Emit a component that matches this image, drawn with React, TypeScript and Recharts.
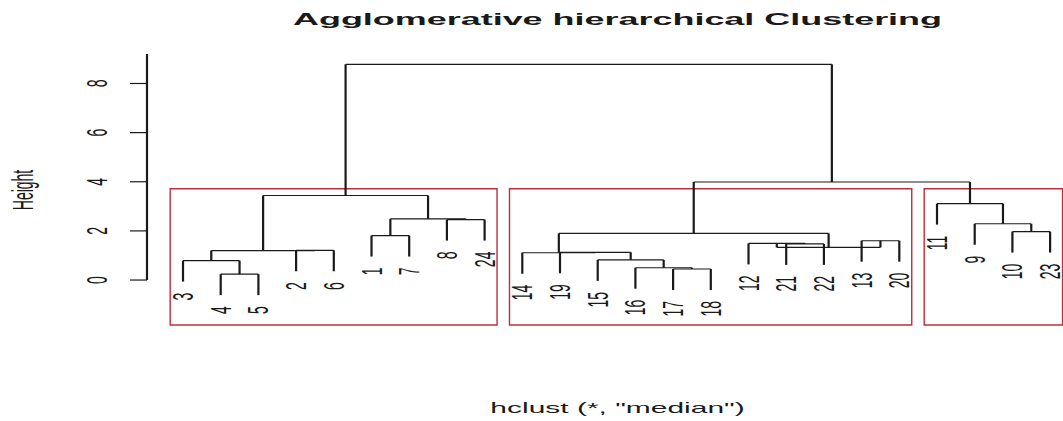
import React from 'react';
import {
  ComposedChart,
  Line,
  Scatter,
  XAxis,
  YAxis,
  ReferenceArea,
  ReferenceLine,
} from 'recharts';

// leaf order along the x axis (observation numbers)
const leafOrder = [3, 4, 5, 2, 6, 1, 7, 8, 24, 14, 19, 15, 16, 17, 18, 12, 21, 22, 13, 20, 11, 9, 10, 23];

// hclust style merge table: negative = observation, positive = earlier merge (1-based)
const mergeLeft = [-4, -3, -2, 2, -1, -8, 5, 4, -17, -16, -15, -19, -14, -21, -12, -13, 15, 13, -10, -9, -11, 18, 8];
const mergeRight = [-5, 1, -6, 3, -7, -24, 6, 7, -18, 9, 10, 11, 12, -22, 14, -20, 16, 17, -23, 19, 20, 21, 22];
const mergeHeight = [
  0.24, 0.79, 1.21, 1.2, 1.81, 2.46, 2.49, 3.44, 0.45, 0.5, 0.82, 1.13, 1.11, 1.47, 1.49, 1.6, 1.33, 1.9,
  1.97, 2.29, 3.11, 3.99, 8.78,
];

// rect.hclust(k = 3) groups, sizes in leaf order
const clusterSizes = [9, 11, 4];

const yTicks = [0, 2, 4, 6, 8];

const W = 1063;
const H = 421;
const SX = 2.14; // the picture is stretched sideways
const FONT = '"Liberation Sans", Arial, Helvetica, sans-serif';
const INK = '#1a1a1a';
const BOX = '#b8303c';
const X_DOMAIN: [number, number] = [0.045, 24.342];
const Y_DOMAIN: [number, number] = [-1.83, 9.2];

type Pt = { x: number; y: number };

const leafPos: Record<number, number> = {};
leafOrder.forEach((id, i) => {
  leafPos[id] = i + 1;
});

const hang = 0.1 * (Math.max(...mergeHeight) - Math.min(...mergeHeight));

const nodeX: number[] = [];
const vSegs: Pt[][] = [];
const hSegs: Pt[][] = [];
const leaves: { x: number; y: number; label: string }[] = [];

mergeHeight.forEach((h, i) => {
  const kids = [mergeLeft[i], mergeRight[i]].map((c) => {
    if (c < 0) {
      const p = { x: leafPos[-c], y: h - hang };
      leaves.push({ ...p, label: String(-c) });
      return p;
    }
    return { x: nodeX[c - 1], y: mergeHeight[c - 1] };
  });
  nodeX[i] = (kids[0].x + kids[1].x) / 2;
  kids.forEach((k) => vSegs.push([{ x: k.x, y: k.y }, { x: k.x, y: h }]));
  hSegs.push([{ x: kids[0].x, y: h }, { x: kids[1].x, y: h }]);
});

const sortedHeights = [...mergeHeight].sort((a, b) => b - a);
const boxTop = (sortedHeights[1] + sortedHeights[2]) / 2;
let start = 0;
const boxes = clusterSizes.map((n) => {
  const b = { x1: start + 0.66, x2: start + n + 0.33 };
  start += n;
  return b;
});

const LeafLabel = (props: any) => {
  const { cx, cy, payload } = props;
  return (
    <text
      transform={`translate(${cx + 10},${cy + 11}) scale(${SX},1) rotate(-90)`}
      textAnchor="end"
      fontSize={14}
      fontFamily={FONT}
      fill={INK}
    >
      {payload.label}
    </text>
  );
};

const YTick = (props: any) => {
  const { y, payload } = props;
  return (
    <text
      transform={`translate(107,${y}) scale(${SX},1) rotate(-90)`}
      textAnchor="middle"
      fontSize={14}
      fontFamily={FONT}
      fill={INK}
    >
      {payload.value}
    </text>
  );
};

export default function App() {
  return (
    <div style={{ position: 'absolute', left: 0, top: 0, width: W, height: H, background: '#fff' }}>
      <ComposedChart width={W} height={H} margin={{ top: 54, right: 0, bottom: 96, left: 47 }}>
        <XAxis type="number" dataKey="x" domain={X_DOMAIN} allowDataOverflow hide />
        <YAxis
          type="number"
          dataKey="y"
          domain={Y_DOMAIN}
          allowDataOverflow
          ticks={yTicks}
          width={100}
          axisLine={false}
          tickSize={17}
          tickLine={{ stroke: INK, strokeWidth: 1.2 }}
          tick={<YTick />}
        />
        <ReferenceLine
          segment={[
            { x: X_DOMAIN[0], y: 0 },
            { x: X_DOMAIN[0], y: Y_DOMAIN[1] },
          ]}
          stroke={INK}
          strokeWidth={2.2}
          ifOverflow="visible"
        />
        {boxes.map((b, i) => (
          <ReferenceArea
            key={`box-${i}`}
            x1={b.x1}
            x2={b.x2}
            y1={Y_DOMAIN[0]}
            y2={boxTop}
            fill="none"
            fillOpacity={0}
            stroke={BOX}
            strokeWidth={1.4}
            ifOverflow="visible"
          />
        ))}
        {vSegs.map((s, i) => (
          <Line
            key={`v-${i}`}
            data={s}
            dataKey="y"
            type="linear"
            stroke={INK}
            strokeWidth={2.2}
            dot={false}
            activeDot={false}
            legendType="none"
            isAnimationActive={false}
          />
        ))}
        {hSegs.map((s, i) => (
          <Line
            key={`h-${i}`}
            data={s}
            dataKey="y"
            type="linear"
            stroke={INK}
            strokeWidth={1.2}
            dot={false}
            activeDot={false}
            legendType="none"
            isAnimationActive={false}
          />
        ))}
        <Scatter data={leaves} dataKey="y" shape={<LeafLabel />} isAnimationActive={false} legendType="none" />
      </ComposedChart>
      <svg
        width={W}
        height={H}
        style={{ position: 'absolute', left: 0, top: 0, pointerEvents: 'none' }}
      >
        <text
          transform={`translate(617.5,25) scale(${SX},1)`}
          textAnchor="middle"
          fontSize={16.8}
          fontWeight="bold"
          fontFamily={FONT}
          fill={INK}
        >
          Agglomerative hierarchical Clustering
        </text>
        <text
          transform={`translate(617.5,413) scale(${SX},1)`}
          textAnchor="middle"
          fontSize={14}
          fontFamily={FONT}
          fill={INK}
        >
          hclust (*, "median")
        </text>
        <text
          transform={`translate(33,190) scale(${SX},1) rotate(-90)`}
          textAnchor="middle"
          fontSize={14}
          fontFamily={FONT}
          fill={INK}
        >
          Height
        </text>
      </svg>
    </div>
  );
}
